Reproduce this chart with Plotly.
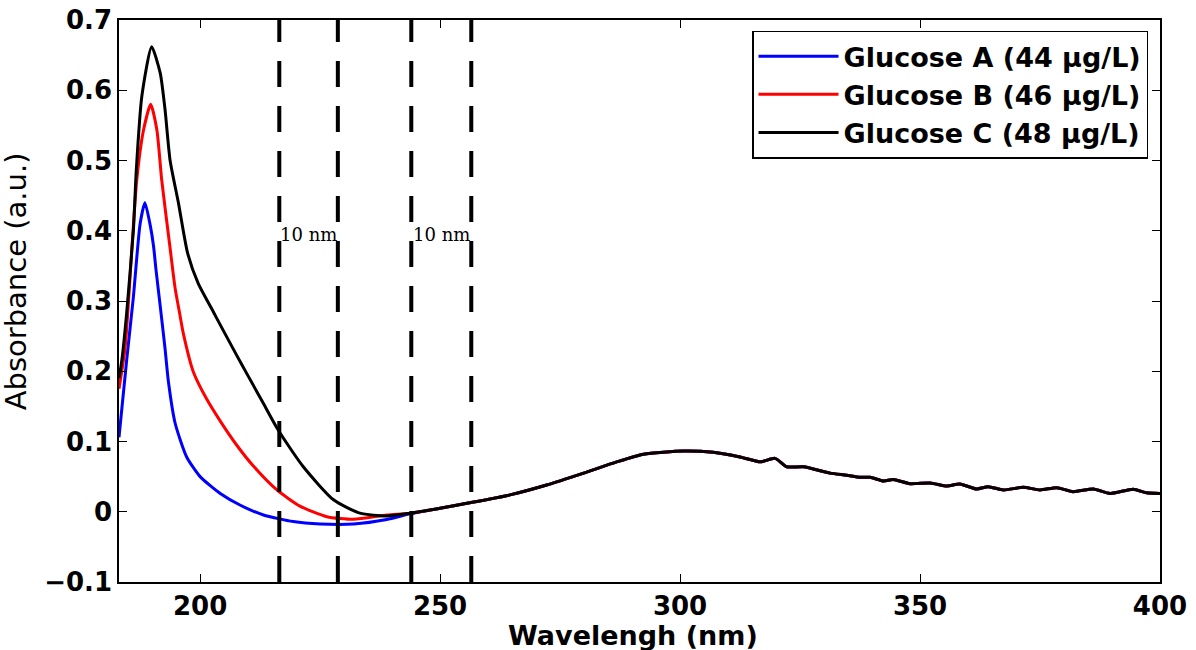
import plotly.graph_objects as go

# ---- data ----
wl_A = [183.1, 184.7, 186.1, 187.5, 188.5, 189.6, 190.3, 190.8, 191.7, 192.7, 193.4, 194.8,
        197.2, 200.0, 204.2, 208.3, 213.2, 219.4, 225.0, 232.0, 238.9, 243.75]
abs_A = [0.106, 0.216, 0.306, 0.410, 0.440, 0.408, 0.378, 0.345, 0.292, 0.232, 0.185, 0.126,
         0.078, 0.050, 0.026, 0.0096, -0.0046, -0.014, -0.0174, -0.0174, -0.011, -0.003]

wl_B = [183.1, 184.4, 185.8, 186.8, 188.2, 189.7, 191.0, 192.0, 193.75, 194.8, 195.8, 196.5,
        198.6, 201.4, 204.2, 207.6, 211.1, 216.0, 220.8, 226.4, 232.0, 238.9, 243.75]
abs_B = [0.175, 0.235, 0.377, 0.472, 0.543, 0.580, 0.543, 0.472, 0.375, 0.318, 0.280, 0.254,
         0.199, 0.160, 0.129, 0.095, 0.065, 0.031, 0.008, -0.007, -0.0108, -0.0046, -0.002]

wl_C = [183.1, 183.7, 184.7, 186.1, 186.7, 187.85, 189.9, 191.7, 192.7, 193.75, 195.5, 197.4,
        199.6, 202.8, 204.2, 207.6, 209.7, 213.2, 216.3, 221.5, 227.8, 233.3, 238.9, 243.75]
abs_C = [0.190, 0.216, 0.283, 0.401, 0.486, 0.591, 0.662, 0.624, 0.572, 0.500, 0.439, 0.368,
         0.325, 0.284, 0.266, 0.223, 0.197, 0.154, 0.116, 0.064, 0.017, -0.002, -0.006, -0.002]

# common tail (the three spectra overlap beyond ~245 nm)
wl_tail = [250.0, 255.6, 264.6, 272.2, 279.9, 286.8, 292.4, 300.7, 306.9, 312.5, 316.7, 319.8,
           322.2, 325.7, 331.25, 334.7, 337.5, 339.6, 342.4, 344.4, 347.9, 352.1, 355.6, 358.3,
           361.8, 364.2, 367.4, 371.5, 375.0, 378.5, 381.9, 386.1, 389.6, 394.4, 397.2, 400.0]
abs_tail = [0.005, 0.012, 0.024, 0.038, 0.055, 0.071, 0.082, 0.0865, 0.0846, 0.078, 0.071, 0.076,
            0.064, 0.064, 0.055, 0.052, 0.049, 0.049, 0.0438, 0.046, 0.040, 0.041, 0.0367, 0.0395,
            0.0324, 0.0357, 0.031, 0.0348, 0.031, 0.0343, 0.0286, 0.0324, 0.026, 0.032, 0.027, 0.026]

series_names = ["Glucose A (44 μg/L)", "Glucose B (46 μg/L)", "Glucose C (48 μg/L)"]
series_colors = ["#0000ff", "#ff0000", "#000000"]

dash_x = [216.5, 228.7, 244.0, 256.5]
label_x = [222.6, 250.25]
label_y = [0.394, 0.394]
label_text = ["10 nm", "10 nm"]

x_ticks = [200, 250, 300, 350, 400]
y_ticks = [-0.1, 0.0, 0.1, 0.2, 0.3, 0.4, 0.5, 0.6, 0.7]
y_ticktext = ["−0.1", "0", "0.1", "0.2", "0.3", "0.4", "0.5", "0.6", "0.7"]

# ---- figure ----
fig = go.Figure()
for wl, ab, name, col in zip([wl_A, wl_B, wl_C], [abs_A, abs_B, abs_C], series_names, series_colors):
    fig.add_trace(go.Scatter(x=wl + wl_tail, y=ab + abs_tail, mode="lines", name=name,
                             line=dict(color=col, width=3, shape="spline", smoothing=0.6)))

for xv in dash_x:
    fig.add_shape(type="line", xref="x", yref="paper", x0=xv, x1=xv, y0=0, y1=1,
                  line=dict(color="black", width=4, dash="26px,19px"))

for xv, yv, t in zip(label_x, label_y, label_text):
    fig.add_annotation(x=xv, y=yv, xref="x", yref="y", text=t, showarrow=False,
                       font=dict(family="DejaVu Serif", size=18, color="black"))

# axis titles as annotations (positions matched to the reference)
fig.add_annotation(x=0, xref="paper", xanchor="right", xshift=-84, y=0.535, yref="paper",
                   text="Absorbance (a.u.)", textangle=-90, showarrow=False,
                   font=dict(family="DejaVu Sans", size=29, color="black"))
fig.add_annotation(x=0.494, xref="paper", y=0, yref="paper", yanchor="top", yshift=-36,
                   text="<b>Wavelengh (nm)</b>", showarrow=False,
                   font=dict(family="DejaVu Sans", size=27, color="black"))

axis_common = dict(ticks="inside", ticklen=8, tickwidth=1, tickcolor="black",
                   showline=True, linewidth=1.5, linecolor="black", mirror="allticks",
                   showgrid=False, zeroline=False, automargin=False,
                   tickfont=dict(family="DejaVu Sans", size=26, color="black", weight="bold"))

fig.update_xaxes(range=[183.1, 400], tickvals=x_ticks, **axis_common)
fig.update_yaxes(range=[-0.1, 0.7], tickvals=y_ticks, ticktext=y_ticktext, **axis_common)

fig.update_layout(
    width=1196, height=650,
    margin=dict(l=119, r=36, t=20, b=68),
    paper_bgcolor="white", plot_bgcolor="white",
    legend=dict(x=0.9885, xanchor="right", y=0.981, yanchor="top",
                bgcolor="white", bordercolor="black", borderwidth=1.5,
                font=dict(family="DejaVu Sans", size=27, color="black", weight="bold"),
                tracegroupgap=0, itemwidth=80),
    showlegend=True,
)

fig.write_html("out.html")
